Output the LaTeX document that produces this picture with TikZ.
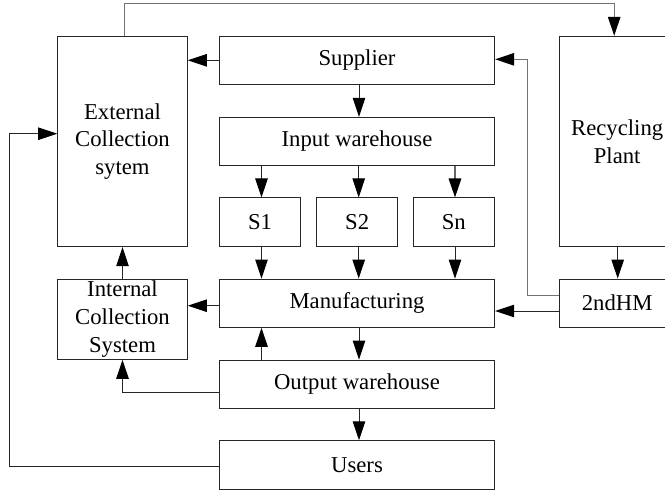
\documentclass[tikz,border=0pt]{standalone}
\usepackage{fontspec}
\setmainfont{Liberation Serif}
\usetikzlibrary{arrows.meta}
\newcommand\dfont{\fontsize{22.7}{27.7}\selectfont}
\tikzset{
  box/.style={draw=black!85, line width=1pt, inner sep=0pt, align=center, font=\dfont},
  arr/.style={-{Triangle[length=19pt,width=12.5pt,color=black]}, line width=1pt, draw=black!85},
  garr/.style={arr, draw=black!55}
}
\begin{document}
\begin{tikzpicture}[x=1pt,y=-1pt]
\useasboundingbox (0,0) rectangle (665,493);
\clip (0,0) rectangle (665,493);
% nodes
\node[box, minimum width=129.6pt, minimum height=210.4pt] (ext) at (122.5,141.5) {External\\Collection\\sytem};
\node[box, minimum width=275.4pt, minimum height=48pt] (sup) at (357,60.3) {Supplier};
\node[box, minimum width=275.4pt, minimum height=48pt] (inw) at (357,141.3) {Input warehouse};
\node[box, minimum width=81.4pt, minimum height=48.5pt] (s1) at (260,222.2) {S1};
\node[box, minimum width=81.4pt, minimum height=48.5pt] (s2) at (357.2,222.2) {S2};
\node[box, minimum width=81.4pt, minimum height=48.5pt] (sn) at (453.8,222.2) {Sn};
\node[box, minimum width=275.4pt, minimum height=48.3pt] (man) at (357,303.2) {Manufacturing};
\node[box, minimum width=129.6pt, minimum height=80.3pt] (int) at (122.5,319.2) {Internal\\Collection\\System};
\node[box, minimum width=275.4pt, minimum height=48.3pt] (out) at (357,384.2) {Output warehouse};
\node[box, minimum width=275.4pt, minimum height=48.3pt] (usr) at (357,464.9) {Users};
\node[box, minimum width=115.7pt, minimum height=210.4pt] (rec) at (617.2,141.5) {Recycling\\Plant};
\node[box, minimum width=115.7pt, minimum height=48.3pt] (hm) at (617.2,303.2) {2ndHM};
\coordinate (lft) at (9,133.7);
% connectors
\draw[arr] (sup.west) -- (sup.west -| ext.east);
\draw[arr] ([xshift=2pt]sup.south) -- ([xshift=2pt]inw.north);
\draw[arr] ([xshift=1.5pt]s1.north |- inw.south) -- ([xshift=1.5pt]s1.north);
\draw[arr] ([xshift=1.5pt]s2.north |- inw.south) -- ([xshift=1.5pt]s2.north);
\draw[arr, draw=black!60, line width=1.6pt] ([xshift=1.2pt]sn.north |- inw.south) -- ([xshift=1.2pt]sn.north);
\draw[arr] ([xshift=1.5pt]s1.south) -- ([xshift=1.5pt]s1.south |- man.north);
\draw[arr] ([xshift=1.5pt]s2.south) -- ([xshift=1.5pt]s2.south |- man.north);
\draw[arr] ([xshift=1.2pt]sn.south) -- ([xshift=1.2pt]sn.south |- man.north);
\draw[arr] ([yshift=-2.5pt]man.west) -- ([yshift=-2.5pt]man.west -| int.east);
\draw[arr] (int.north) -- (ext.south);
\draw[arr] ([xshift=1.5pt]out.north -| s1.south) -- ([xshift=1.5pt]man.south -| s1.south);
\draw[arr] ([xshift=2pt]man.south) -- ([xshift=2pt]out.north);
\draw[arr] ([yshift=-8pt]out.west) -| (int.south);
\draw[arr] ([xshift=2pt]out.south) -- ([xshift=2pt]usr.north);
\draw[arr] ([yshift=-1.8pt]usr.west) -| (lft) -- (lft -| ext.west);
\draw[garr] ([xshift=1.5pt]ext.north) -- ++(0,-32.3) -| ([xshift=-3pt]rec.north);
\draw[arr] ([xshift=0.5pt]rec.south) -- ([xshift=0.5pt]hm.north);
\draw[arr] ([yshift=-7.8pt]hm.west) -- ([yshift=-7.8pt]hm.west -| man.east);
\draw[garr] ([yshift=8pt]hm.west) -- ++(-31.6,0) |- ([yshift=1pt]sup.east);
\end{tikzpicture}
\end{document}
